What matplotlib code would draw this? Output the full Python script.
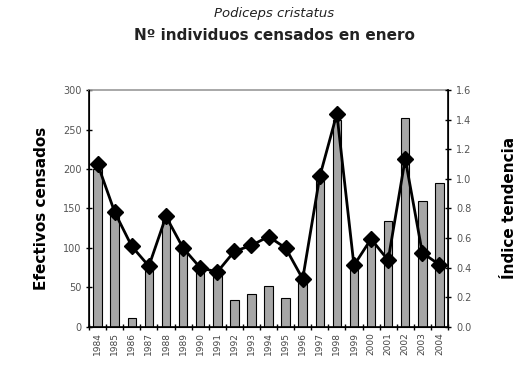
import matplotlib
matplotlib.use("Agg")
import matplotlib.pyplot as plt
import numpy as np

years = [str(y) for y in range(1984, 2005)]
censados = [200, 142, 11, 77, 134, 96, 72, 67, 34, 42, 52, 36, 58, 190, 262,
            80, 106, 134, 265, 160, 182]
indice = [1.10, 0.775, 0.544, 0.41, 0.746, 0.533, 0.40, 0.37, 0.51, 0.55, 0.61,
          0.533, 0.324, 1.016, 1.44, 0.415, 0.594, 0.45, 1.136, 0.50, 0.42]

fig = plt.figure(figsize=(5.27, 3.66), dpi=100)
ax = fig.add_axes([0.169, 0.107, 0.681, 0.647])
x = np.arange(len(years))

ax.bar(x, censados, width=0.5, color="#a6a6a6", edgecolor="black", linewidth=0.8, zorder=2)
ax.set_xlim(-0.5, len(years) - 0.5)
ax.set_ylim(0, 300)
ax.set_yticks(range(0, 301, 50))
ax.set_xticks(x)
ax.set_xticklabels(years, rotation=90, fontsize=6.5, color="#444444")
ax.set_xticks(np.arange(-0.5, len(years), 1), minor=True)
ax.tick_params(axis="x", which="major", length=0, pad=4)
ax.tick_params(axis="x", which="minor", length=5, direction="inout", width=1)
ax.tick_params(axis="y", labelsize=7, labelcolor="#555555", length=4, width=1, direction="inout")
ax.spines["top"].set_color("#999999")
ax.spines["top"].set_linewidth(1.2)
for s in ("left", "bottom"):
    ax.spines[s].set_linewidth(1.2)
ax.set_ylabel("Efectivos censados", fontsize=11, fontweight="bold", labelpad=10)

ax2 = ax.twinx()
ax2.plot(x, indice, color="black", linewidth=2, marker="D", markersize=8,
         markerfacecolor="black", zorder=3)
ax2.set_ylim(0, 1.6)
ax2.set_yticks(np.arange(0, 1.61, 0.2))
ax2.set_yticklabels([f"{v:.1f}" for v in np.arange(0, 1.61, 0.2)])
ax2.tick_params(axis="y", labelsize=7, labelcolor="#555555", length=5, width=1, direction="inout")
ax2.spines["right"].set_linewidth(1.2)
ax2.spines["top"].set_visible(False)
ax2.set_ylabel("Índice tendencia", fontsize=11, fontweight="bold", labelpad=22)

fig.text(0.52, 0.962, "Podiceps cristatus", ha="center", va="center",
         fontsize=9.5, style="italic", color="#222222")
fig.text(0.52, 0.903, "Nº individuos censados en enero", ha="center", va="center",
         fontsize=11, fontweight="bold", color="#222222")

fig.savefig("out.png", dpi=100)
